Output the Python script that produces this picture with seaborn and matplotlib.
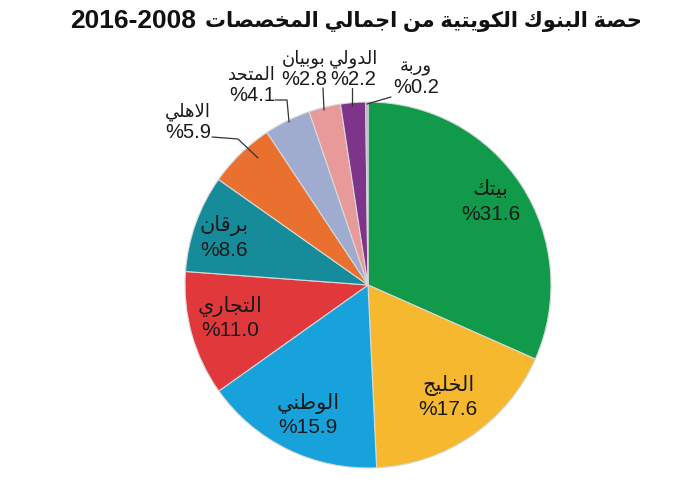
import numpy as np
import matplotlib
matplotlib.use("Agg")
import matplotlib.pyplot as plt
import seaborn as sns

# ---------------- data ----------------
banks = ["بيتك", "الخليج", "الوطني", "التجاري", "برقان",
         "الاهلي", "المتحد", "بوبيان", "الدولي", "وربة"]
shares = [31.6, 17.6, 15.9, 11.0, 8.6, 5.9, 4.1, 2.8, 2.2, 0.2]
colors = ["#109a4a", "#f6b82f", "#17a2dc", "#e1393b", "#168c9a",
          "#ea702f", "#9facd0", "#e89a9b", "#7d348a", "#a9a9a9"]
title_ar = "حصة البنوك الكويتية من اجمالي المخصصات"
title_years = "2016-2008"

# ---------------- minimal Arabic shaping ----------------
FORMS = {
    'ا': ('\uFE8D', '\uFE8E', None, None),
    'ب': ('\uFE8F', '\uFE90', '\uFE91', '\uFE92'),
    'ة': ('\uFE93', '\uFE94', None, None),
    'ت': ('\uFE95', '\uFE96', '\uFE97', '\uFE98'),
    'ث': ('\uFE99', '\uFE9A', '\uFE9B', '\uFE9C'),
    'ج': ('\uFE9D', '\uFE9E', '\uFE9F', '\uFEA0'),
    'ح': ('\uFEA1', '\uFEA2', '\uFEA3', '\uFEA4'),
    'خ': ('\uFEA5', '\uFEA6', '\uFEA7', '\uFEA8'),
    'د': ('\uFEA9', '\uFEAA', None, None),
    'ذ': ('\uFEAB', '\uFEAC', None, None),
    'ر': ('\uFEAD', '\uFEAE', None, None),
    'ز': ('\uFEAF', '\uFEB0', None, None),
    'س': ('\uFEB1', '\uFEB2', '\uFEB3', '\uFEB4'),
    'ش': ('\uFEB5', '\uFEB6', '\uFEB7', '\uFEB8'),
    'ص': ('\uFEB9', '\uFEBA', '\uFEBB', '\uFEBC'),
    'ض': ('\uFEBD', '\uFEBE', '\uFEBF', '\uFEC0'),
    'ط': ('\uFEC1', '\uFEC2', '\uFEC3', '\uFEC4'),
    'ظ': ('\uFEC5', '\uFEC6', '\uFEC7', '\uFEC8'),
    'ع': ('\uFEC9', '\uFECA', '\uFECB', '\uFECC'),
    'غ': ('\uFECD', '\uFECE', '\uFECF', '\uFED0'),
    'ف': ('\uFED1', '\uFED2', '\uFED3', '\uFED4'),
    'ق': ('\uFED5', '\uFED6', '\uFED7', '\uFED8'),
    'ك': ('\uFED9', '\uFEDA', '\uFEDB', '\uFEDC'),
    'ل': ('\uFEDD', '\uFEDE', '\uFEDF', '\uFEE0'),
    'م': ('\uFEE1', '\uFEE2', '\uFEE3', '\uFEE4'),
    'ن': ('\uFEE5', '\uFEE6', '\uFEE7', '\uFEE8'),
    'ه': ('\uFEE9', '\uFEEA', '\uFEEB', '\uFEEC'),
    'و': ('\uFEED', '\uFEEE', None, None),
    'ى': ('\uFEEF', '\uFEF0', None, None),
    'ي': ('\uFEF1', '\uFEF2', '\uFEF3', '\uFEF4'),
}


def _joins_next(c):
    return c in FORMS and FORMS[c][2] is not None


def shape_word(w):
    out = []
    i = 0
    n = len(w)
    while i < n:
        c = w[i]
        prev_j = i > 0 and _joins_next(w[i - 1]) and c in FORMS
        if c == 'ل' and i + 1 < n and w[i + 1] == 'ا':
            out.append('\uFEFC' if prev_j else '\uFEFB')
            i += 2
            continue
        if c not in FORMS:
            out.append(c)
            i += 1
            continue
        next_j = _joins_next(c) and i + 1 < n and w[i + 1] in FORMS
        iso, fin, ini, med = FORMS[c]
        if prev_j and next_j:
            out.append(med)
        elif next_j:
            out.append(ini)
        elif prev_j:
            out.append(fin)
        else:
            out.append(iso)
        i += 1
    return ''.join(out)


def ar(text):
    # shape then reverse into visual (left-to-right drawing) order
    return ' '.join(shape_word(w)[::-1] for w in text.split(' ')[::-1])


# ---------------- figure ----------------
sns.set_theme(style="white")
plt.rcParams['font.family'] = ['Liberation Sans', 'DejaVu Sans']

W, H = 673, 500
fig = plt.figure(figsize=(W / 100, H / 100), dpi=100)
fig.patch.set_facecolor("white")
cx, cy, R = 368, 285, 183
ax = fig.add_axes([(cx - R) / W, (H - cy - R) / H, 2 * R / W, 2 * R / H])

wedges, _ = ax.pie(shares, colors=colors, startangle=90, counterclock=False,
                   wedgeprops=dict(edgecolor="#d8d8d8", linewidth=0.8))
ax.set_xlim(-1, 1)
ax.set_ylim(-1, 1)
ax.axis("off")


def px2d(px, py):
    return (px - cx) / R, (cy - py) / R


lab_color = "#1a1a1a"
pct = ["%" + f"{v:.1f}" for v in shares]

# inner labels for big slices: centre of the percentage line (px)
inner = {0: (491, 214), 1: (448, 410), 2: (308, 428), 3: (230, 331), 4: (224, 250)}
for i, (tx, ty) in inner.items():
    x, y = px2d(tx, ty)
    ax.text(x, y + 0.105, ar(banks[i]), ha="center", va="baseline",
            fontsize=15, color=lab_color)
    ax.text(x, y, pct[i], ha="center", va="center",
            fontsize=15, color=lab_color)

# outer labels with leader lines: (text centre px, path of leader in px)
outer = {
    5: ((188, 123), [(212, 137), (238, 139), (258, 158)]),
    6: ((252, 86), [(275, 100), (287, 100), (289, 122)]),
    7: ((304, 70), [(323, 88), (324, 110)]),
    8: ((353, 70), [(352, 88), (352, 106)]),
    9: ((416, 78), [(391, 97), (367, 104)]),
}
for i, ((tx, ty), path) in outer.items():
    x, y = px2d(tx, ty)
    ax.text(x, y + 0.012, ar(banks[i]), ha="center", va="bottom",
            fontsize=13, color=lab_color, clip_on=False)
    ax.text(x, y, pct[i], ha="center", va="top",
            fontsize=14.5, color=lab_color, clip_on=False)
    pts = np.array([px2d(a, b) for a, b in path])
    ax.plot(pts[:, 0], pts[:, 1], color="#333333", lw=0.9, clip_on=False)

# title: numbers (left) then Arabic words, drawn as two runs
fig.text(70 / W, 1 - 21 / H, title_years, ha="left", va="center",
         fontsize=19, fontweight="bold", color="#111111")
fig.text(642 / W, 1 - 21 / H, ar(title_ar), ha="right", va="center",
         fontsize=15, fontweight="bold", color="#111111")

fig.savefig("out.png", dpi=100, facecolor="white")
